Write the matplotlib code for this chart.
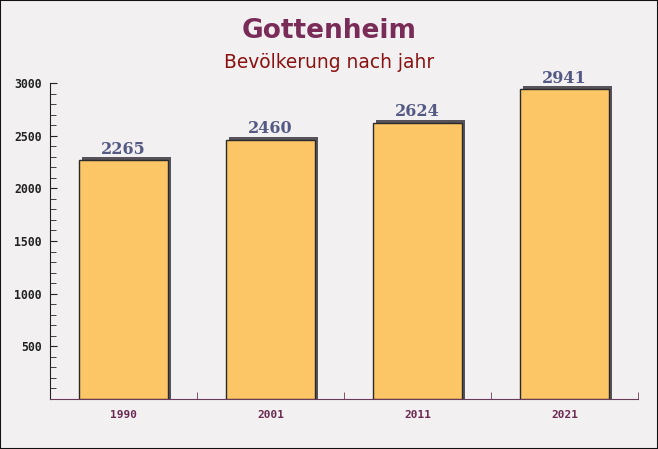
import matplotlib.pyplot as plt
import matplotlib.transforms as mtransforms
from matplotlib.ticker import MultipleLocator, FixedLocator

# data
years = ['1990', '2001', '2011', '2021']
population = [2265, 2460, 2624, 2941]
yticks = [500, 1000, 1500, 2000, 2500, 3000]

bg = '#f2f0f1'
fig = plt.figure(figsize=(6.58, 4.49), dpi=100, facecolor=bg)
ax = fig.add_axes([50/658, 1 - 399/449, 588/658, 316/449])
ax.set_facecolor(bg)

x = list(range(len(years)))

# shadow behind each bar, shifted a few pixels up and right
# (started below zero so it still reaches the axis after the shift)
shadow = ax.transData + mtransforms.ScaledTranslation(3/100, 3/100, fig.dpi_scale_trans)
ax.bar(x, [v + 40 for v in population], bottom=-40, width=0.6, color='#57535a',
       transform=shadow, zorder=2)
ax.bar(x, population, width=0.6, color='#fcc566',
       edgecolor='#2a2a2a', linewidth=1.0, zorder=3)

for xi, v in zip(x, population):
    ax.text(xi, v + 25, str(v), ha='center', va='bottom', fontsize=11.5,
            fontweight='bold', family='DejaVu Serif', color='#555a85', zorder=4)

ax.set_xlim(-0.5, len(years) - 0.5)
ax.set_ylim(0, 3000)

ax.yaxis.set_major_locator(FixedLocator(yticks))
ax.yaxis.set_minor_locator(MultipleLocator(100))
ax.tick_params(axis='y', which='major', length=5, direction='in', colors='#222222',
               labelsize=8.3, pad=6)
ax.tick_params(axis='y', which='minor', length=4, direction='in', color='#222222')
for lab in ax.get_yticklabels():
    lab.set_family('DejaVu Sans Mono')
    lab.set_fontweight('bold')

ax.set_xticks(x)
ax.set_xticklabels(years, family='DejaVu Sans Mono', fontweight='bold', fontsize=8,
                   color='#6b2a50')
ax.tick_params(axis='x', which='major', length=0, pad=8)
ax.xaxis.set_minor_locator(FixedLocator([i + 0.5 for i in x]))
ax.tick_params(axis='x', which='minor', length=5, direction='in', color='#6b3a5a')

for side in ['top', 'right']:
    ax.spines[side].set_visible(False)
ax.spines['left'].set_color('#222222')
ax.spines['bottom'].set_color('#6b3a5a')

fig.text(0.5, 1 - 31/449, 'Gottenheim', ha='center', va='center', fontsize=19,
         fontweight='bold', color='#7a2c58')
fig.text(0.5, 1 - 62/449, 'Bevölkerung nach jahr', ha='center', va='center',
         fontsize=13.4, color='#8b1010')

# thin dark frame around the picture
fig.add_artist(plt.Rectangle((0, 0), 1, 1, transform=fig.transFigure, fill=False,
                             edgecolor='#111111', linewidth=1.5))

fig.savefig('out.png', dpi=100, facecolor=bg)
